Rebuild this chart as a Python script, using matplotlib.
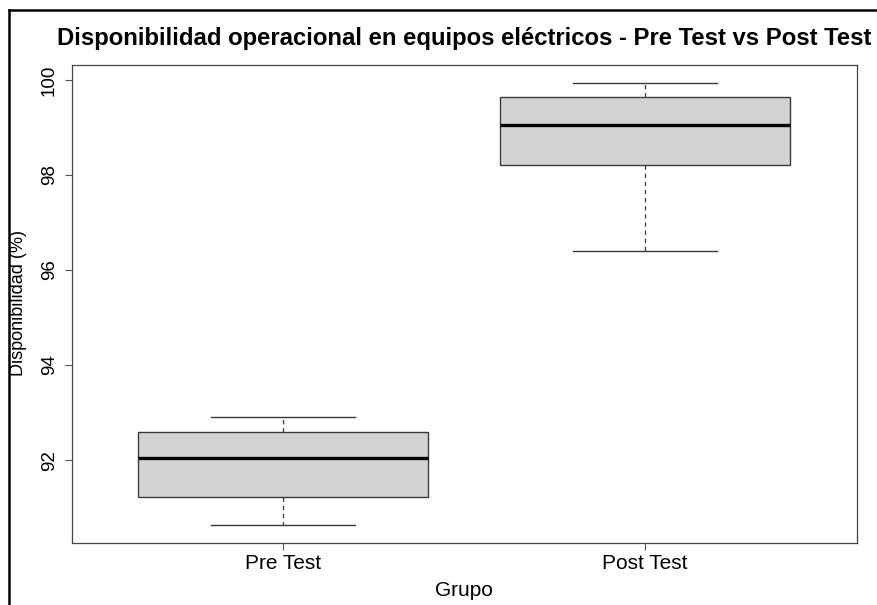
import matplotlib
matplotlib.use("Agg")
from matplotlib import pyplot as plt
from matplotlib.lines import Line2D

plt.rcParams["font.family"] = ["Liberation Sans", "DejaVu Sans"]

groups = ["Pre Test", "Post Test"]
whisker_low = [90.63, 96.39]
q1 = [91.22, 98.21]
median = [92.04, 99.05]
q3 = [92.59, 99.64]
whisker_high = [92.91, 99.94]
yticks = [92, 94, 96, 98, 100]

stats = []
for i, g in enumerate(groups):
    stats.append({
        "label": g,
        "whislo": whisker_low[i],
        "q1": q1[i],
        "med": median[i],
        "q3": q3[i],
        "whishi": whisker_high[i],
        "fliers": [],
    })

fig = plt.figure(figsize=(8.78, 6.05), dpi=100)
ax = fig.add_axes([72 / 878, 1 - 543 / 605, (857 - 72) / 878, (543 - 65) / 605])

edge = "#3a3a3a"
ax.bxp(
    stats,
    positions=[1, 2],
    widths=0.8,
    patch_artist=True,
    showfliers=False,
    boxprops=dict(facecolor="#d3d3d3", edgecolor=edge, linewidth=1.0),
    medianprops=dict(color="black", linewidth=2.4, solid_capstyle="butt"),
    whiskerprops=dict(color=edge, linewidth=0.9, linestyle=(0, (3.5, 3))),
    capprops=dict(color=edge, linewidth=1.0),
    capwidths=0.4,
)

lo = min(whisker_low)
hi = max(whisker_high)
pad = 0.04 * (hi - lo)
ax.set_ylim(lo - pad, hi + pad)
ax.set_xlim(0.417, 2.586)

ax.set_yticks(yticks)
ax.set_yticklabels([str(t) for t in yticks], rotation=90, va="center")
ax.set_xticks([1, 2])
ax.set_xticklabels(groups)
ax.tick_params(axis="both", length=5, width=0.8, color="#555555")
ax.tick_params(axis="y", labelsize=13.5, pad=5)
ax.tick_params(axis="x", labelsize=15, pad=3)
for s in ax.spines.values():
    s.set_color("#444444")
    s.set_linewidth(0.9)

fig.text(464 / 878, 1 - 38 / 605, "Disponibilidad operacional en equipos eléctricos - Pre Test vs Post Test",
         ha="center", va="center", fontsize=17.2, fontweight="bold")
fig.text(19 / 878, 1 - 303 / 605, "Disponibilidad (%)", rotation=90, ha="center", va="center", fontsize=13)
fig.text(464 / 878, 1 - 590 / 605, "Grupo", ha="center", va="center", fontsize=15)

# screenshot frame lines on top and left
fig.add_artist(Line2D([9 / 878, 1], [1 - 9.5 / 605, 1 - 9.5 / 605], color="black", linewidth=1.8, transform=fig.transFigure))
fig.add_artist(Line2D([9 / 878, 9 / 878], [0, 1 - 9.5 / 605], color="black", linewidth=1.8, transform=fig.transFigure))

fig.savefig("out.png", dpi=100)
